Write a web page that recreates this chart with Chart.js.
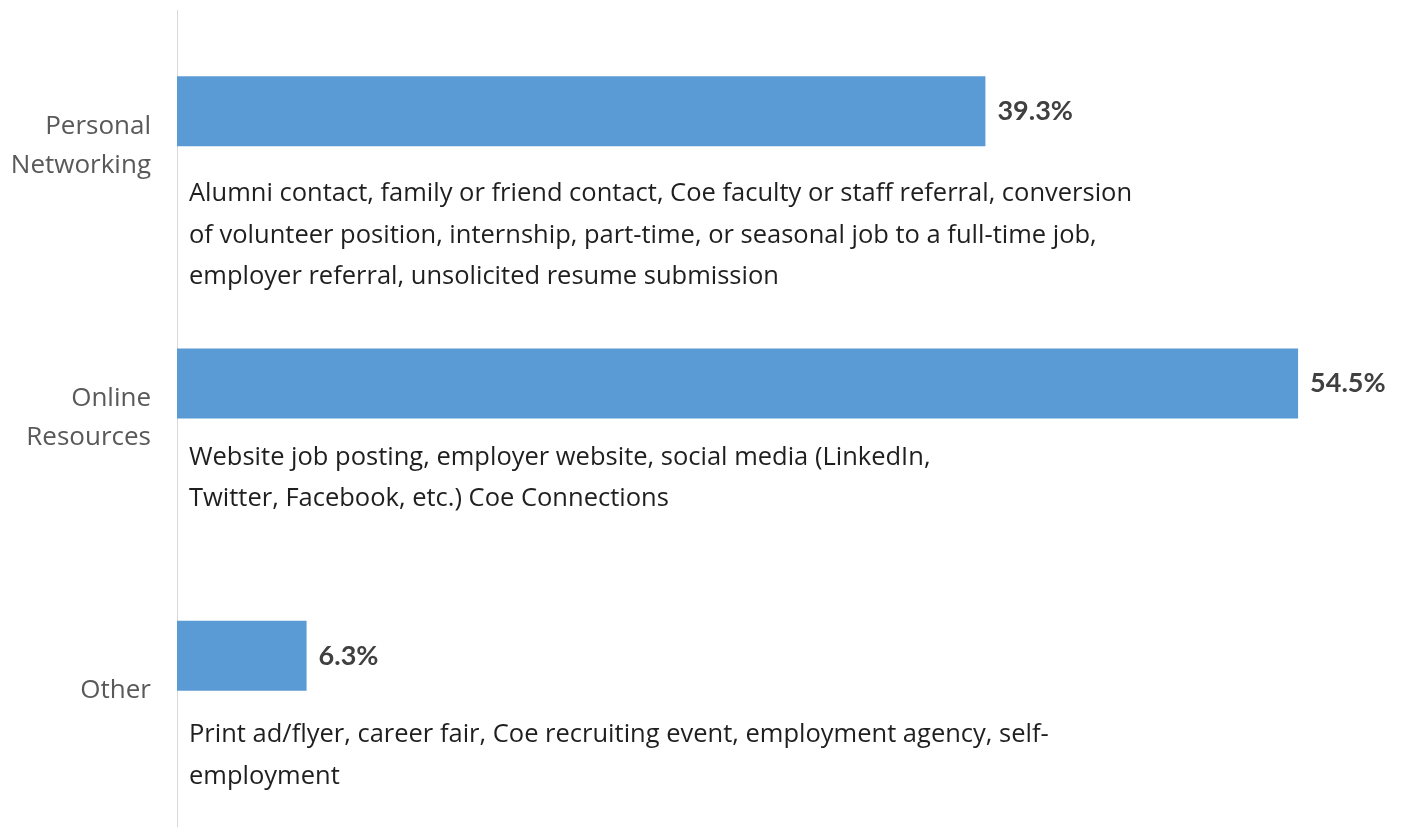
<!DOCTYPE html>
<html>
<head>
<meta charset="utf-8">
<script src="https://cdn.jsdelivr.net/npm/chart.js@4"></script>
<style>
  html, body { margin: 0; padding: 0; background: #fff; }
  #wrap { width: 1403px; height: 827px; }
</style>
</head>
<body>
<div id="wrap"><canvas id="barChart"></canvas></div>
<script>
// categories (multi-line tick labels)
const categories = [
  ["Personal", "Networking"],
  ["Online", "Resources"],
  ["Other"],
];
const shares = [39.3, 54.5, 6.3];
const valueLabels = ["39.3%", "54.5%", "6.3%"];
// text printed under each bar, one entry per line
const descriptions = [
  [
    "Alumni contact, family or friend contact, Coe faculty or staff referral, conversion",
    "of volunteer position, internship, part-time, or seasonal job to a full-time job,",
    "employer referral, unsolicited resume submission",
  ],
  [
    "Website job posting, employer website, social media (LinkedIn,",
    "Twitter, Facebook, etc.) Coe Connections",
  ],
  [
    "Print ad/flyer, career fair, Coe recruiting event, employment agency, self-",
    "employment",
  ],
];

const FONT = "Lato, 'Open Sans', sans-serif";
const TEXT_FONT = "'Open Sans', sans-serif";

// value labels and description text drawn next to / under the bars
const annotate = {
  id: "annotate",
  afterDatasetsDraw(chart, args, opts) {
    const { ctx, chartArea } = chart;
    const bars = chart.getDatasetMeta(0).data;
    ctx.save();
    bars.forEach((bar, i) => {
      const bottom = bar.y + bar.height / 2;
      ctx.textBaseline = "middle";
      ctx.textAlign = "left";
      ctx.fillStyle = "#404040";
      ctx.font = "bold 27px " + FONT;
      ctx.fillText(valueLabels[i], bar.x + 12, bar.y);

      ctx.fillStyle = "#1f1f1f";
      ctx.font = "25.5px " + TEXT_FONT;
      descriptions[i].forEach((line, j) => {
        ctx.fillText(line, chartArea.left + 12, bottom + opts.offsets[i] + j * 41.5);
      });
    });
    ctx.restore();
  },
};

const ctx = document.getElementById("barChart");

const chart = new Chart(ctx, {
  type: "bar",
  data: {
    labels: categories,
    datasets: [
      {
        data: shares,
        backgroundColor: "#5B9BD5",
        categoryPercentage: 0.514,
        barPercentage: 1.0,
      },
      {
        // empty companion series: pushes the bar into the upper half of its slot
        data: [null, null, null],
        backgroundColor: "rgba(0,0,0,0)",
        categoryPercentage: 0.514,
        barPercentage: 1.0,
      },
    ],
  },
  options: {
    indexAxis: "y",
    responsive: true,
    maintainAspectRatio: false,
    animation: false,
    layout: { padding: { top: 10, right: 0, bottom: 0, left: 0 } },
    plugins: {
      legend: { display: false },
      tooltip: { enabled: false },
      annotate: { offsets: [48, 39, 44] },
    },
    scales: {
      x: {
        display: false,
        min: 0,
        max: 59.6,
      },
      y: {
        afterFit(scale) {
          scale.width = 177;
          scale.paddingTop = 0;
          scale.paddingBottom = 0;
        },
        grid: { display: false, drawTicks: false },
        border: { display: true, color: "#d9d9d9", width: 1 },
        ticks: {
          color: "#595959",
          padding: 26,
          font: { family: TEXT_FONT, size: 26, lineHeight: 1.5 },
        },
      },
    },
  },
  plugins: [annotate],
});
</script>
</body>
</html>
